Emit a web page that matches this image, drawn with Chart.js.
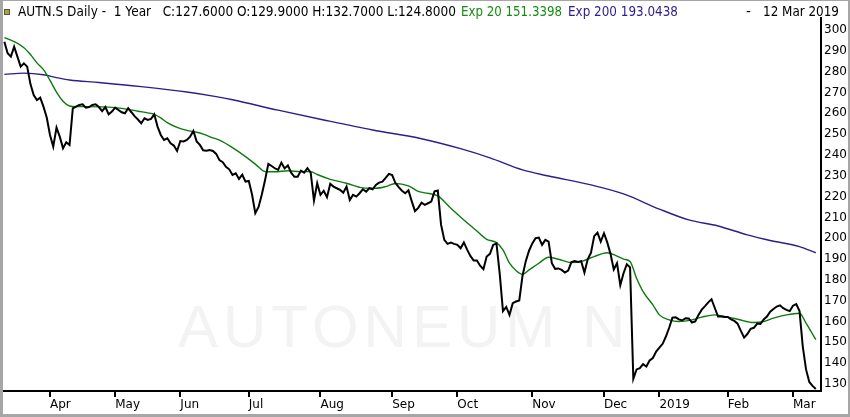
<!DOCTYPE html>
<html>
<head>
<meta charset="utf-8">
<script src="https://cdn.jsdelivr.net/npm/chart.js@4.4.1/dist/chart.umd.min.js"></script>
<style>
html,body{margin:0;padding:0;background:#fff;}
#wrap{position:relative;width:850px;height:417px;overflow:hidden;background:#fff;font-family:"DejaVu Sans",sans-serif;}
#c{position:absolute;left:0;top:0;}
#wm{position:absolute;left:178px;top:292px;font-family:"Liberation Sans",Arial,sans-serif;font-size:60px;letter-spacing:5px;color:#f3f3f3;white-space:nowrap;}
.hdr{position:absolute;top:3px;white-space:nowrap;font-size:13.5px;line-height:17px;color:#000;transform-origin:0 50%;}
#icon{position:absolute;left:4px;top:9px;width:4px;height:4px;background:#b5a22a;border:1px solid #555;}
#frame{position:absolute;left:0;top:0;width:850px;height:417px;box-sizing:border-box;border-style:solid;border-color:#a6a6a6;border-width:1px 2px 3px 3px;pointer-events:none;}
</style>
</head>
<body>
<div id="wrap">
  <div id="wm">AUTONEUM N</div>
  <canvas id="c" width="850" height="417"></canvas>
  <div id="icon"></div>
  <span class="hdr" data-x="18" data-w="438">AUTN.S Daily -&nbsp; 1 Year &nbsp; C:127.6000 O:129.9000 H:132.7000 L:124.8000</span>
  <span class="hdr" data-x="461" data-w="101" style="color:#148c14">Exp 20 151.3398</span>
  <span class="hdr" data-x="568" data-w="110" style="color:#2c1e8c">Exp 200 193.0438</span>
  <span class="hdr" data-x="746">-</span>
  <span class="hdr" data-x="763" data-w="76">12 Mar 2019</span>
  <div id="frame"></div>
</div>
<script>
// ---- Data (trading-day index from 12 Mar 2018) ----
const priceClose = [
294.4,288.8,287.2,292,287.2,282.4,284,282.4,274,268.8,
266.4,267.5,263.2,258,249.6,244,253.1,248.8,243.2,246.1,
244.8,262.4,263.2,264,264.3,262.7,263,264,264.3,263,
261,263,259.5,260.8,262.7,261.6,260.5,260,262.4,260.5,
258.5,257,255.2,257.6,256.8,257.3,259.5,253.6,249.6,247.2,
248,245.6,244.5,241.9,246.7,246.5,247.2,248.8,251.5,246.5,
244.8,242.2,242,242.4,241.9,240.5,237.5,236.5,234.3,233.1,
230.4,231.2,228.5,230.5,227.2,227.5,221,212,215,221,
228,235.7,234.7,233.6,232.8,236.3,233.5,235,231.5,229.5,
229.5,232.5,231.5,233.6,231.5,218.1,226.4,220.8,222.8,219.7,
226.1,224.8,224,223.2,221.9,224.8,218.4,220.8,220,221.6,
223.5,222.4,224,223.5,225.6,226.7,227.2,229,230.9,230.3,
226.5,224.5,222.8,221.6,223,217.8,213,214.6,217.1,216,
216.8,217.6,222.5,222.9,206.5,199.2,197.3,197.9,197.3,196.8,
195.2,198,194.5,191.5,189.3,189.3,186.8,185.1,191.2,192.5,
196.8,197.5,183,165,167,163.2,168.8,169.6,170.1,182,
189,194,197.5,200,200.3,196.8,199.2,198.4,188,185.3,
185.5,184.8,183.5,184.5,188.5,189,188.6,189,183.5,189.9,
193,201,202.7,198.4,202.4,198,192.5,185,188,177.5,
183.2,187.5,186,132.5,137,137.6,139.5,138.4,141.3,142.5,
145.6,147.5,149.3,152.8,157,161.8,162,161,160.5,161.6,
161.5,159.5,160,163.2,165.7,167.4,169.2,170.7,166.5,162.4,
162.4,162.2,162.2,161,160.3,159,155.5,152.3,154,156.5,
157,159,158.8,161,162.4,164.7,166,167.2,167.8,166.4,
165.6,165,167.6,168.4,165,148,137,131,129.1,127.6
];

const ema20Day = [0,3,6,8,10,12,14,16,18,20,22,25,30,34,38,41,44,46,48,50,53,56,59,61,64,66,70,74,77,80,83,87,91,94,96,100,105,110,114,117,120,124,127,129,133,137,141,145,148,151,153,155,157,159,161,164,167,170,174,177,181,185,188,190,192,194,196,199,201,204,207,211,214,218,221,225,230,233,236,240,244,246,249];
const ema20Value = [296.3,294.4,291.5,288.2,284.2,281,275.8,270.2,265.8,263.5,263.2,263.2,263.1,262.7,261.9,261,260.2,259.5,257.8,255.5,253.2,251.8,250.9,250,248.2,247.1,243.5,239.2,235.6,232,231.9,232.4,232,232,230.6,228.3,226.4,224.2,224,224.8,226.3,225.1,222.5,221.8,220.3,214.4,208.8,203.5,199.5,197.9,194.4,188,184.5,182.7,184.8,188,190.9,189.9,188.3,188.8,191.2,193,191.4,190,188.8,180.8,174.4,168,163.2,160.8,160,160.8,162.1,163.2,162.4,161.1,159.5,160,161.6,163.2,164,159.2,151.34];

const ema200Day = [0,6,12,16,20,29,42,56,65,70,84,98,113,128,140,149,159,167,180,190,201,210,219,228,235,244,249];
const ema200Value = [278.7,279.3,278.5,277.1,276,274.8,272.8,270.2,268,266.5,261.5,256.8,252,247.8,243,238.6,232.8,229.9,225.6,221.3,214,208.8,205.9,201.6,198.9,196,193.04];

const monthTickDay = [14,34,54,75,97,119,139,162,184,201,222,242];
const monthTickLabel = ['Apr','May','Jun','Jul','Aug','Sep','Oct','Nov','Dec','2019','Feb','Mar'];
const priceTicks = [130,140,150,160,170,180,190,200,210,220,230,240,250,260,270,280,290,300];

// ---- Header fitting ----
document.querySelectorAll('.hdr').forEach(el => {
  el.style.left = el.dataset.x + 'px';
  if (el.dataset.w) {
    const w = el.getBoundingClientRect().width;
    el.style.transform = 'scaleX(' + (parseFloat(el.dataset.w) / w) + ')';
  }
});

// ---- Chart ----
const toXY = (days, vals) => vals.map((v, i) => ({x: days ? days[i] : i, y: v}));
const axisFont = {family: '"DejaVu Sans", sans-serif', size: 12};

new Chart(document.getElementById('c'), {
  type: 'line',
  data: {
    datasets: [
      {label: 'AUTN.S', data: toXY(null, priceClose), borderColor: '#000', borderWidth: 2, pointRadius: 0, tension: 0},
      {label: 'Exp 20', data: toXY(ema20Day, ema20Value), borderColor: '#0d7a0d', borderWidth: 1.4, pointRadius: 0, tension: 0.35, cubicInterpolationMode: 'monotone'},
      {label: 'Exp 200', data: toXY(ema200Day, ema200Value), borderColor: '#2c1e8c', borderWidth: 1.4, pointRadius: 0, tension: 0.35, cubicInterpolationMode: 'monotone'}
    ]
  },
  options: {
    responsive: false,
    animation: false,
    events: [],
    layout: {padding: {top: 18, left: 3, right: 0, bottom: 0}},
    plugins: {legend: {display: false}, tooltip: {enabled: false}, title: {display: false}},
    scales: {
      x: {
        type: 'linear',
        min: -0.42,
        max: 250.59,
        afterBuildTicks: s => { s.ticks = monthTickDay.map(v => ({value: v})); },
        afterFit: s => { s.height = 26; },
        grid: {display: true, drawOnChartArea: false, drawTicks: true, tickLength: 6, color: '#000', lineWidth: 2},
        border: {display: true, color: '#000', width: 2},
        ticks: {
          autoSkip: false, maxRotation: 0, align: 'start', padding: 1,
          color: '#000', font: axisFont,
          callback: v => { const k = monthTickDay.indexOf(v); return k >= 0 ? monthTickLabel[k] : ''; }
        }
      },
      y: {
        position: 'right',
        min: 126.64,
        max: 305.76,
        afterBuildTicks: s => { s.ticks = priceTicks.map(v => ({value: v})); },
        afterFit: s => { s.width = 29; },
        grid: {display: false, drawTicks: false},
        border: {display: true, color: '#000', width: 2},
        ticks: {padding: 3, color: '#000', font: axisFont, callback: v => String(v)}
      }
    }
  }
});
</script>
</body>
</html>
